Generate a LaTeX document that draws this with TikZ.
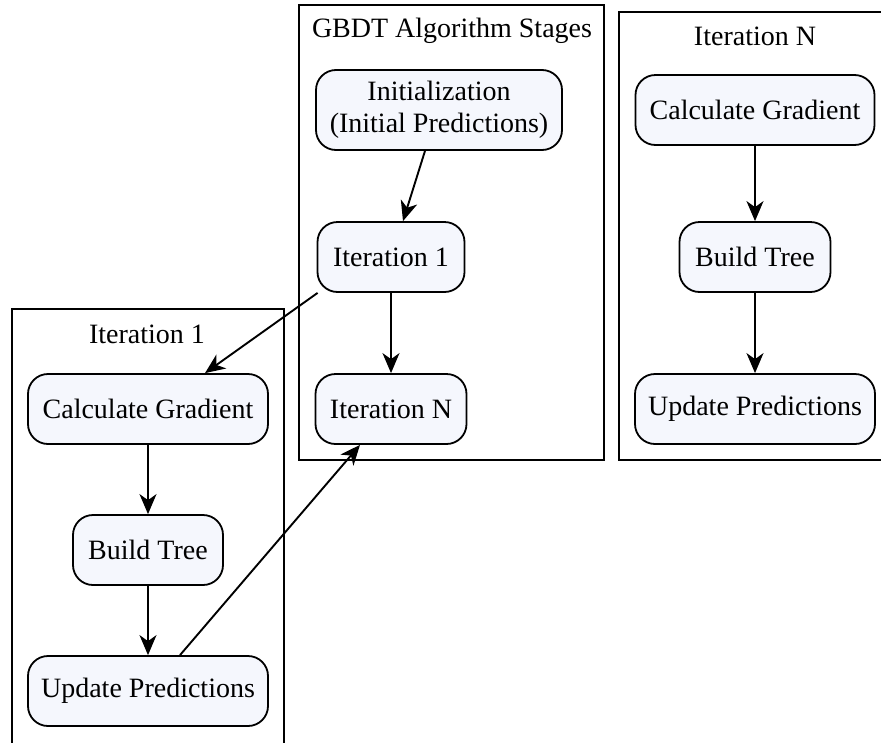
\documentclass[tikz,border=0pt]{standalone}
\usepackage{fontspec}
\setmainfont{Liberation Serif}
\usetikzlibrary{arrows.meta}
\definecolor{nodefill}{HTML}{F5F7FD}
\tikzset{
  stage/.style={draw=black, line width=1.8pt, fill=nodefill, rounded corners=20pt,
    inner sep=0pt, minimum height=70pt, align=center,
    font=\fontsize{28}{32}\selectfont},
  cluster/.style={draw=black, line width=1.8pt},
  ctitle/.style={font=\fontsize{28}{32}\selectfont, inner sep=0pt},
  flow/.style={line width=1.9pt, -{Stealth[length=20pt,width=17pt,inset=6pt]}}
}
\begin{document}
\begin{tikzpicture}[x=1pt,y=-1pt]
\useasboundingbox (0,0) rectangle (881,742);
\fill[white] (0,0) rectangle (881,742);

% cluster frames
\draw[cluster] (299,5) rectangle (604,460);
\draw[cluster] (619,12) rectangle (886,460);
\draw[cluster] (12,309) rectangle (284,748);
\node[ctitle] (tmain) at (452,31) {GBDT Algorithm Stages};
\node[ctitle] (tn) at (755,36) {Iteration N};
\node[ctitle] (t1) at (147,334) {Iteration 1};

% main stages
\node[stage, minimum width=246pt, minimum height=80pt] (init) at (439,110) {\raisebox{-2pt}{Initialization}\\\raisebox{-2pt}{(Initial Predictions)}};
\node[stage, minimum width=147pt] (it1) at (391,257) {\raisebox{-2pt}{Iteration 1}};
\node[stage, minimum width=151pt] (itn) at (391,409) {\raisebox{-2pt}{Iteration N}};

% iteration N
\node[stage, minimum width=239pt] (ncg) at (755,110) {\raisebox{-2pt}{Calculate Gradient}};
\node[stage, minimum width=151pt] (nbt) at (755,257) {\raisebox{-2pt}{Build Tree}};
\node[stage, minimum width=240pt] (nup) at (755,409) {\raisebox{-2pt}{Update Predictions}};

% iteration 1
\node[stage, minimum width=240pt] (lcg) at (148,409) {\raisebox{-2pt}{Calculate Gradient}};
\node[stage, minimum width=150pt] (lbt) at (148,550) {\raisebox{-2pt}{Build Tree}};
\node[stage, minimum width=240pt] (lup) at (148,691) {\raisebox{-2pt}{Update Predictions}};

% connectors
\draw[flow] ([xshift=-14pt]init.south) -- ([xshift=12pt]it1.north);
\draw[flow] (it1) -- (itn);
\draw[flow] ([xshift=1pt]it1.south west) -- ([xshift=57pt]lcg.north);
\draw[flow] ([xshift=32pt]lup.north) -- ([xshift=-31pt]itn.south);
\draw[flow] (ncg) -- (nbt);
\draw[flow] (nbt) -- (nup);
\draw[flow] (lcg) -- (lbt);
\draw[flow] (lbt) -- (lup);
\end{tikzpicture}
\end{document}
